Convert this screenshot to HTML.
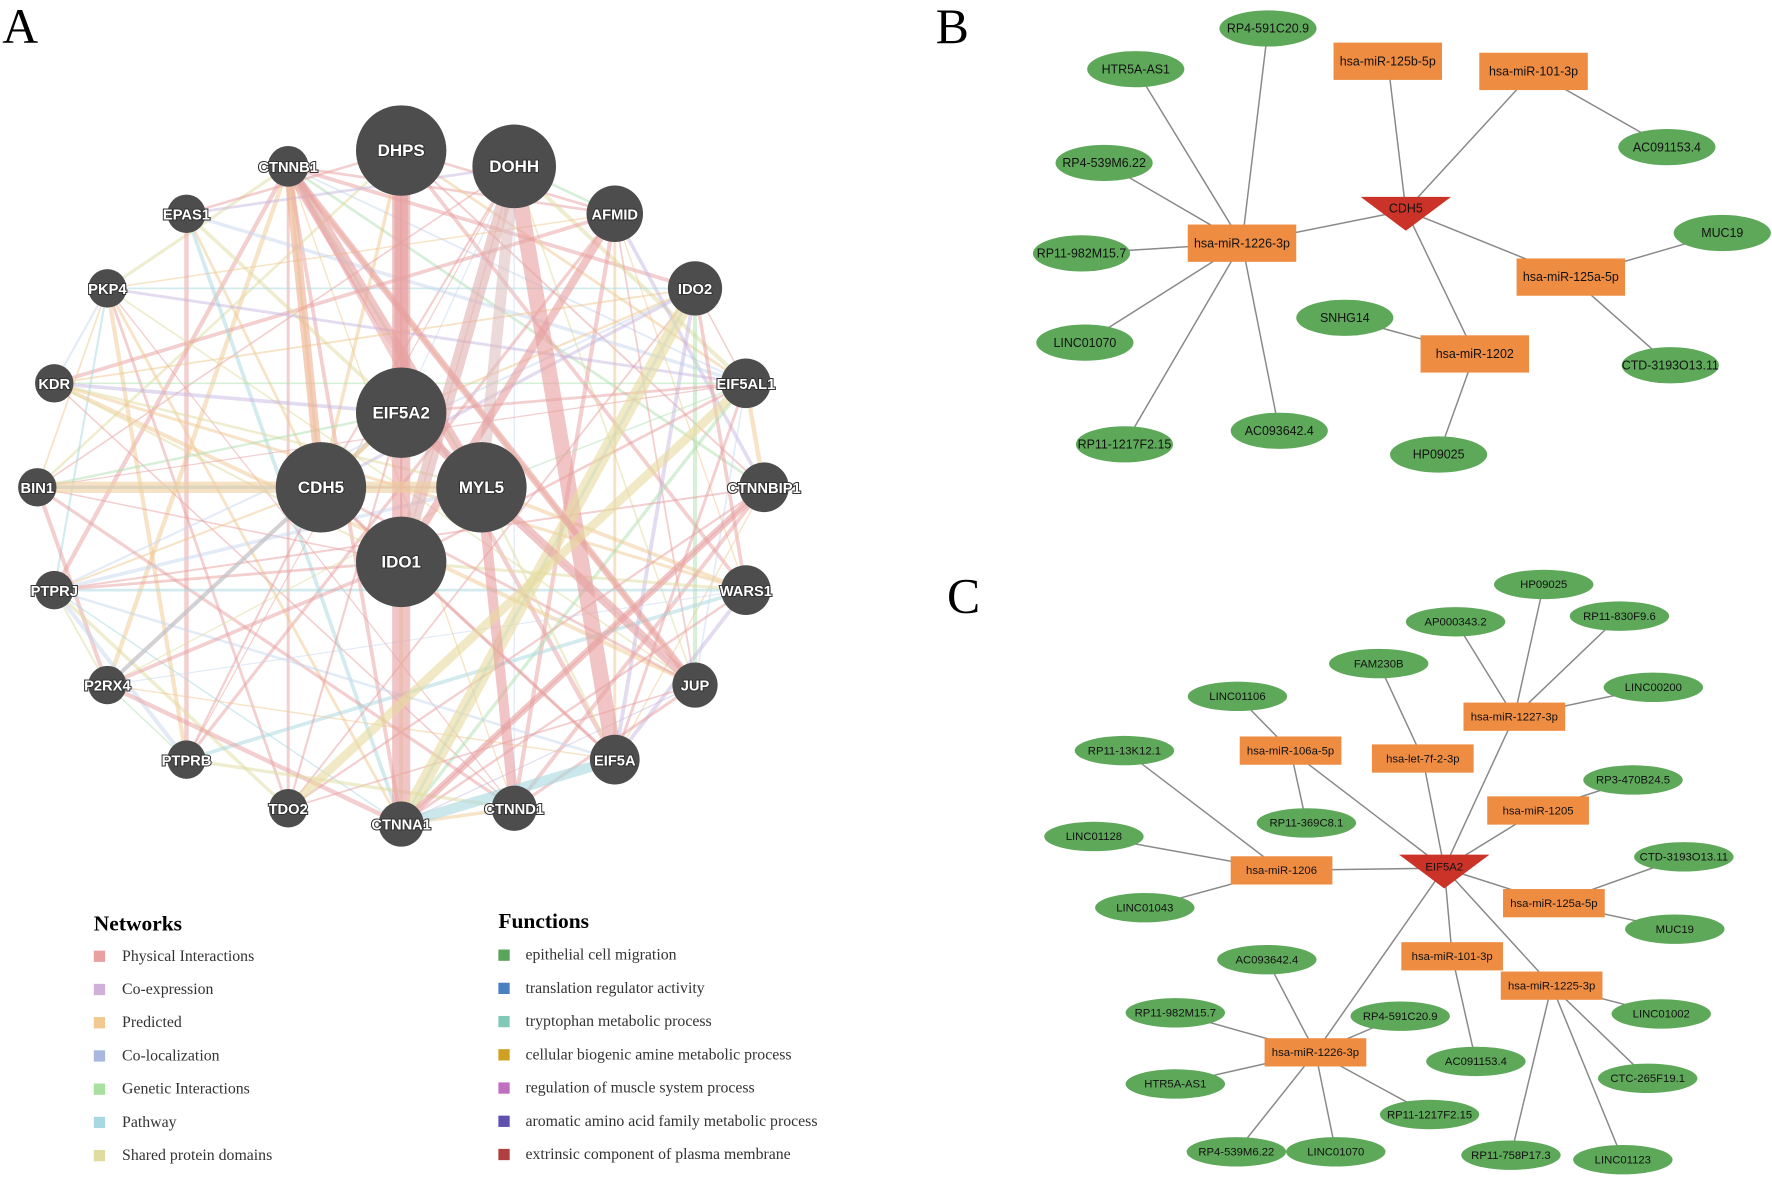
<!DOCTYPE html>
<html><head><meta charset="utf-8">
<style>
html,body{margin:0;padding:0;background:#fff;}
svg{display:block;}
</style></head>
<body>
<svg id="s" width="1772" height="1178" viewBox="0 0 1568 1042" xmlns="http://www.w3.org/2000/svg" font-family="Liberation Sans, sans-serif">
<rect width="1568" height="1042" fill="#fff"/>
<text x="2" y="38" font-family="Liberation Serif, serif" font-size="44">A</text>
<text x="828" y="38" font-family="Liberation Serif, serif" font-size="44">B</text>
<text x="838" y="542" font-family="Liberation Serif, serif" font-size="44">C</text>
<g id="edgesA"></g><g id="nodesA"></g>
<g id="legend" font-family="Liberation Serif, serif"></g>
<g id="B"></g><g id="C"></g>
</svg>
<script>
const NS="http://www.w3.org/2000/svg";
function el(p,t,a,txt){const e=document.createElementNS(NS,t);for(const k in a)e.setAttribute(k,a[k]);if(txt!=null)e.textContent=txt;p.appendChild(e);return e;}
const N={CTNNB1:[255,147,18],DHPS:[355,133,40],DOHH:[455,147,37],AFMID:[544,189,25],EPAS1:[165,189,17],PKP4:[95,255,17],IDO2:[615,255,24],KDR:[48,339,17],EIF5AL1:[660,339,22],BIN1:[33,431,17],CTNNBIP1:[676,431,22],PTPRJ:[48,522,17],WARS1:[660,522,22],P2RX4:[95,606,17],JUP:[615,606,20],PTPRB:[165,672,17],EIF5A:[544,672,22],TDO2:[255,715,17],CTNNA1:[355,729,20],CTNND1:[455,715,20],EIF5A2:[355,365,40],CDH5:[284,431,40],MYL5:[426,431,40],IDO1:[355,497,40]};
const cols=["#e8a0a0","#e8a0a0","#e8a0a0","#f0c890","#c8d8f0","#b0e0b0","#a8d8e0","#e0dca0","#c8b8e0"];
const names=Object.keys(N);
const eA=document.getElementById("edgesA");
let seed=7;function rnd(){seed=(seed*9301+49297)%233280;return seed/233280;}
for(let i=0;i<names.length;i++)for(let j=i+1;j<names.length;j++){
 if(rnd()<0.45){const a=N[names[i]],b=N[names[j]];
 el(eA,"line",{x1:a[0],y1:a[1],x2:b[0],y2:b[1],stroke:cols[Math.floor(rnd()*cols.length)],"stroke-width":1+rnd()*3,opacity:0.5});}}
const thick=[["DHPS","CTNNA1","#e8a0a0",16],["DOHH","EIF5A","#e8a0a0",14],["DOHH","IDO1","#e0b0b0",12],["IDO2","CTNNA1","#e8dca0",12],["MYL5","CTNNB1","#e8a0a0",10],["MYL5","BIN1","#f0d0a0",10],["MYL5","CTNND1","#e8a0a0",9],["EIF5A","CTNNA1","#a8d8e0",9],["DHPS","EIF5A2","#e8a0a0",12],["CDH5","CTNNB1","#f0b090",8],["EIF5A2","JUP","#e8a0a0",8],["CTNNB1","JUP","#e8a0a0",6],["DOHH","MYL5","#e0c0c0",10],["EIF5AL1","TDO2","#e8dca0",8],["CTNNBIP1","CTNNA1","#e8a0a0",6],["AFMID","IDO1","#e8a0a0",7]];
thick.forEach(t=>{const a=N[t[0]],b=N[t[1]];el(eA,"line",{x1:a[0],y1:a[1],x2:b[0],y2:b[1],stroke:t[2],"stroke-width":t[3],opacity:0.6});});
const nA=document.getElementById("nodesA");
for(const k of names){const [x,y,r]=N[k];
 el(nA,"circle",{cx:x,cy:y,r:r,fill:"#4d4d4d"});
 el(nA,"text",{x:x,y:y+5,"text-anchor":"middle","font-size":r>30?15:13,"font-weight":"bold",fill:"#fff",stroke:"#333","stroke-width":1.8,"paint-order":"stroke"},k);}
const L=document.getElementById("legend");
el(L,"text",{x:83,y:823,"font-size":19,"font-weight":"bold"},"Networks");
el(L,"text",{x:441,y:821,"font-size":19,"font-weight":"bold"},"Functions");
const nl=[["Physical Interactions","#e8a0a0"],["Co-expression","#d0b0d8"],["Predicted","#f0c890"],["Co-localization","#a8b8e0"],["Genetic Interactions","#a8e0a0"],["Pathway","#a8d8e0"],["Shared protein domains","#e0dca0"]];
const fl=[["epithelial cell migration","#5aa55a"],["translation regulator activity","#4a80c0"],["tryptophan metabolic process","#80c8b8"],["cellular biogenic amine metabolic process","#d0a020"],["regulation of muscle system process","#c070c0"],["aromatic amino acid family metabolic process","#6050b0"],["extrinsic component of plasma membrane","#b04040"]];
nl.forEach((n,i)=>{const y=846+i*29.4;el(L,"rect",{x:83,y:y-5,width:10,height:10,fill:n[1]});el(L,"text",{x:108,y:y+4,"font-size":14,fill:"#333"},n[0]);});
fl.forEach((n,i)=>{const y=845+i*29.4;el(L,"rect",{x:441,y:y-5,width:10,height:10,fill:n[1]});el(L,"text",{x:465,y:y+4,"font-size":14,fill:"#333"},n[0]);});
function net(g,ell,rec,tri,edges,erx,ery,rw,rh,fs){
 const P={};for(const k in ell)P[k]=ell[k];for(const k in rec)P[k]=rec[k];P[tri[0]]=[tri[1],tri[2]];
 edges.forEach(([a,b])=>{el(g,"line",{x1:P[a][0],y1:P[a][1],x2:P[b][0],y2:P[b][1],stroke:"#888","stroke-width":1.3});});
 for(const k in ell){const [x,y]=ell[k];el(g,"ellipse",{cx:x,cy:y,rx:erx,ry:ery,fill:"#5ea85a"});el(g,"text",{x:x,y:y+fs/3,"text-anchor":"middle","font-size":fs,fill:"#111"},k);}
 for(const k in rec){const [x,y]=rec[k];el(g,"rect",{x:x-rw/2,y:y-rh/2,width:rw,height:rh,fill:"#ee8c42"});el(g,"text",{x:x,y:y+fs/3,"text-anchor":"middle","font-size":fs,fill:"#111"},k);}
 const [t,x,y]=tri;el(g,"polygon",{points:`${x-40},${y-12} ${x+40},${y-12} ${x},${y+18}`,fill:"#cc3328"});
 el(g,"text",{x:x,y:y+2,"text-anchor":"middle","font-size":fs,fill:"#111"},t);
}
net(document.getElementById("B"),
{"RP4-591C20.9":[1122,25],"HTR5A-AS1":[1005,61],"RP4-539M6.22":[977,144],"RP11-982M15.7":[957,224],"LINC01070":[960,303],"RP11-1217F2.15":[995,393],"AC093642.4":[1132,381],"SNHG14":[1190,281],"HP09025":[1273,402],"AC091153.4":[1475,130],"MUC19":[1524,206],"CTD-3193O13.11":[1478,323]},
{"hsa-miR-125b-5p":[1228,54],"hsa-miR-101-3p":[1357,63],"hsa-miR-1226-3p":[1099,215],"hsa-miR-125a-5p":[1390,245],"hsa-miR-1202":[1305,313]},
["CDH5",1244,186],
[["hsa-miR-1226-3p","RP4-591C20.9"],["hsa-miR-1226-3p","HTR5A-AS1"],["hsa-miR-1226-3p","RP4-539M6.22"],["hsa-miR-1226-3p","RP11-982M15.7"],["hsa-miR-1226-3p","LINC01070"],["hsa-miR-1226-3p","RP11-1217F2.15"],["hsa-miR-1226-3p","AC093642.4"],["hsa-miR-1226-3p","CDH5"],["hsa-miR-125b-5p","CDH5"],["hsa-miR-101-3p","CDH5"],["hsa-miR-101-3p","AC091153.4"],["hsa-miR-125a-5p","CDH5"],["hsa-miR-125a-5p","MUC19"],["hsa-miR-125a-5p","CTD-3193O13.11"],["hsa-miR-1202","CDH5"],["hsa-miR-1202","SNHG14"],["hsa-miR-1202","HP09025"]],
43,16,96,33,11);
const m=s=>"hsa-miR-"+s;
net(document.getElementById("C"),
{"HP09025":[1366,517],"AP000343.2":[1288,550],"RP11-830F9.6":[1433,545],"FAM230B":[1220,587],"LINC00200":[1463,608],"LINC01106":[1095,616],"RP11-13K12.1":[995,664],"RP3-470B24.5":[1445,690],"RP11-369C8.1":[1156,728],"LINC01128":[968,740],"CTD-3193O13.11":[1490,758],"LINC01043":[1013,803],"MUC19":[1482,822],"AC093642.4":[1121,849],"RP11-982M15.7":[1040,896],"RP4-591C20.9":[1239,899],"LINC01002":[1470,897],"AC091153.4":[1306,939],"HTR5A-AS1":[1040,959],"CTC-265F19.1":[1458,954],"RP11-1217F2.15":[1265,986],"RP4-539M6.22":[1094,1019],"LINC01070":[1182,1019],"RP11-758P17.3":[1337,1022],"LINC01123":[1436,1026]},
{"hsa-miR-1227-3p":[1340,634],"hsa-miR-106a-5p":[1142,664],"hsa-let-7f-2-3p":[1259,671],"hsa-miR-1205":[1361,717],"hsa-miR-1206":[1134,770],"hsa-miR-125a-5p":[1375,799],"hsa-miR-101-3p":[1285,846],"hsa-miR-1225-3p":[1373,872],"hsa-miR-1226-3p":[1164,931]},
["EIF5A2",1278,768],
[[m("1227-3p"),"HP09025"],[m("1227-3p"),"AP000343.2"],[m("1227-3p"),"RP11-830F9.6"],[m("1227-3p"),"LINC00200"],[m("1227-3p"),"EIF5A2"],[m("106a-5p"),"LINC01106"],[m("106a-5p"),"RP11-369C8.1"],[m("106a-5p"),"EIF5A2"],["hsa-let-7f-2-3p","FAM230B"],["hsa-let-7f-2-3p","EIF5A2"],[m("1205"),"RP3-470B24.5"],[m("1205"),"EIF5A2"],[m("1206"),"RP11-13K12.1"],[m("1206"),"LINC01128"],[m("1206"),"LINC01043"],[m("1206"),"EIF5A2"],[m("125a-5p"),"CTD-3193O13.11"],[m("125a-5p"),"MUC19"],[m("125a-5p"),"EIF5A2"],[m("101-3p"),"AC091153.4"],[m("101-3p"),"EIF5A2"],[m("1225-3p"),"LINC01002"],[m("1225-3p"),"CTC-265F19.1"],[m("1225-3p"),"RP11-758P17.3"],[m("1225-3p"),"LINC01123"],[m("1225-3p"),"EIF5A2"],[m("1226-3p"),"AC093642.4"],[m("1226-3p"),"RP11-982M15.7"],[m("1226-3p"),"RP4-591C20.9"],[m("1226-3p"),"HTR5A-AS1"],[m("1226-3p"),"RP11-1217F2.15"],[m("1226-3p"),"RP4-539M6.22"],[m("1226-3p"),"LINC01070"],[m("1226-3p"),"EIF5A2"]],
44,13,90,25,10);
</script>
</body></html>
